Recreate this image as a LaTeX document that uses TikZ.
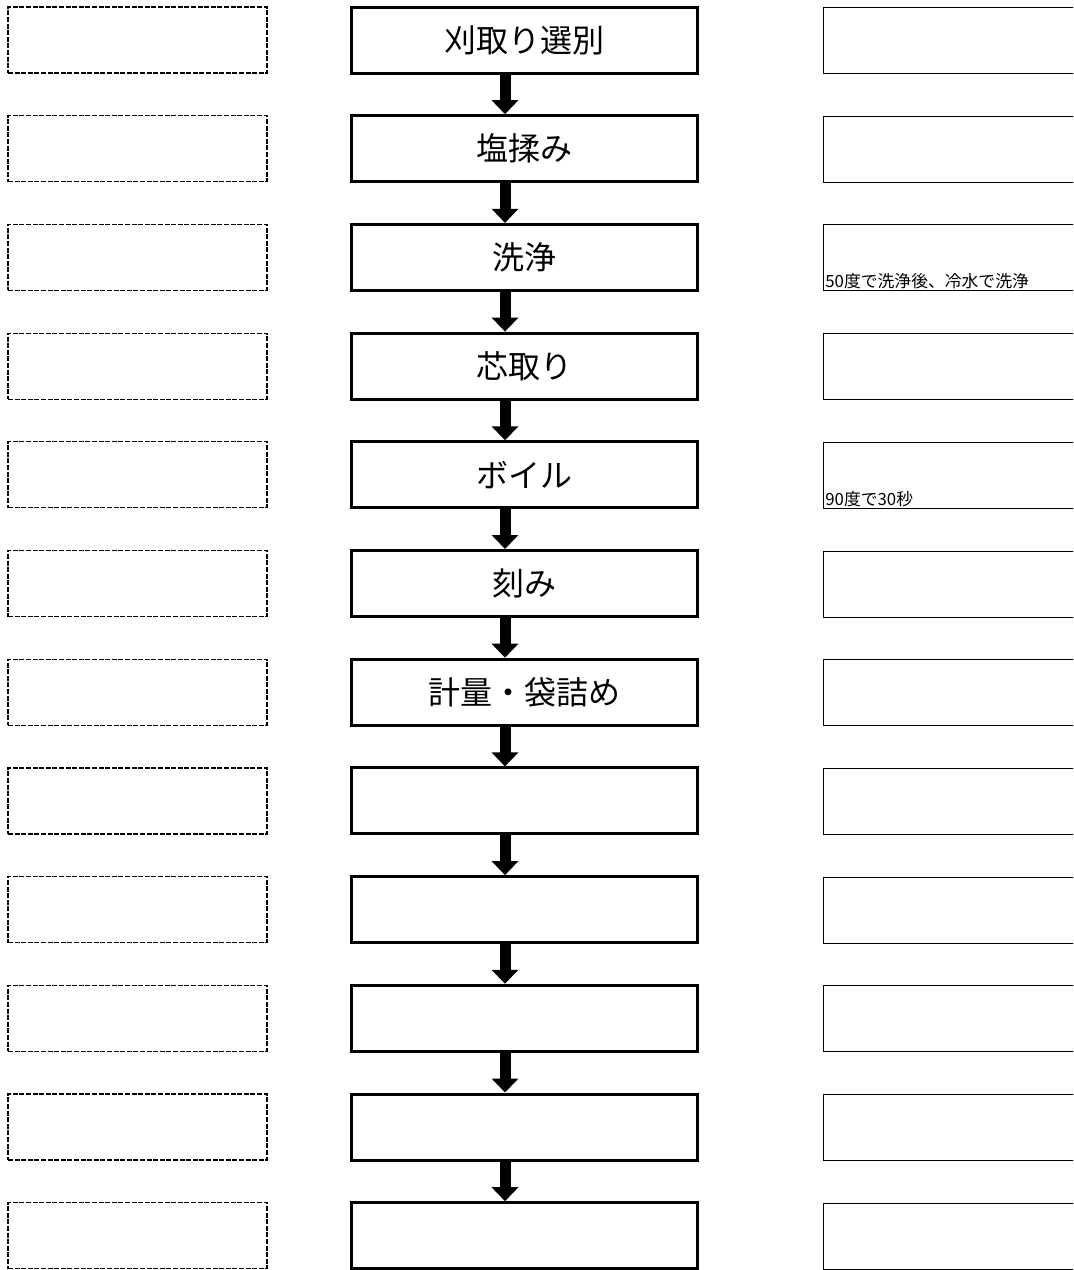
\documentclass[tikz,border=0pt]{standalone}
\usepackage{fontspec}
\setmainfont{Noto Sans CJK JP}
\usetikzlibrary{arrows.meta}

\tikzset{
  stepbox/.style={draw, line width=1.5pt, minimum width=173pt, minimum height=33pt,
    inner sep=0pt, font=\fontsize{16}{18}\selectfont},
  memobox/.style={draw, dash pattern=on 2.5pt off 0.8pt, line width=0.6pt,
    minimum width=129.5pt, minimum height=33pt},
  notebox/.style={draw, line width=0.5pt, anchor=north west, minimum width=160pt, minimum height=33pt},
  notetext/.style={anchor=south west, inner sep=1pt, font=\fontsize{8.4}{9}\selectfont},
  flowarrow/.style={line width=5.5pt, -{Triangle[width=13pt,length=7pt]}}
}

\begin{document}
\begin{tikzpicture}[x=0.5pt,y=-0.5pt]
  \useasboundingbox (0,0) rectangle (1073,1270);
  \clip (0,0) rectangle (1073,1270);

  % process column
  \foreach \i/\name in {0/刈取り選別, 1/塩揉み, 2/洗浄, 3/芯取り, 4/ボイル, 5/刻み,
      6/計量・袋詰め, 7/, 8/, 9/, 10/, 11/}
  {
    \node[memobox] (m\i) at (137.5, 40+108.7*\i) {};
    \node[stepbox] (s\i) at (524, 40+108.7*\i) {\name};
    \node[notebox] (n\i) at (823, 7+108.7*\i) {};
  }

  \foreach \i [evaluate=\i as \j using int(\i+1)] in {0,...,10}
    \draw[flowarrow] ([xshift=-9.5pt]s\i.south) -- ([xshift=-9.5pt]s\j.north);

  % notes
  \node[notetext] (t2) at (n2.south west) {50度で洗浄後、冷水で洗浄};
  \node[notetext] (t4) at (n4.south west) {90度で30秒};
\end{tikzpicture}
\end{document}
